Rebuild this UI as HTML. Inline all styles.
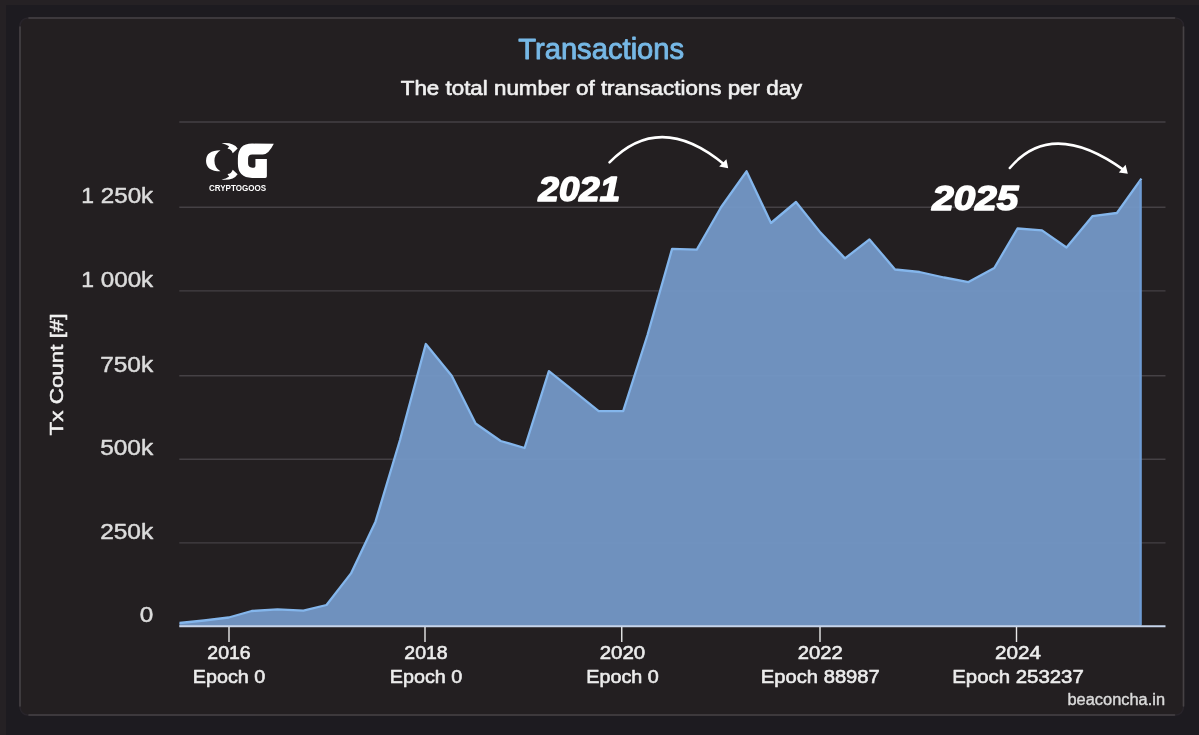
<!DOCTYPE html>
<html>
<head>
<meta charset="utf-8">
<title>Transactions</title>
<style>
html,body{margin:0;padding:0;background:#1d1b20;width:1199px;height:735px;overflow:hidden}
svg{display:block;position:absolute;left:0;top:0;filter:blur(0.35px)}
text{font-family:"Liberation Sans",sans-serif;stroke-linejoin:round}
</style>
</head>
<body>
<svg width="1199" height="735" viewBox="0 0 1199 735">
  <rect x="0" y="0" width="1199" height="735" fill="#1d1b20"/>
  <rect x="0" y="0" width="1199" height="5" fill="#252124"/>
  <rect x="0" y="0" width="6" height="735" fill="#252124"/>
  <rect x="20" y="18" width="1163.5" height="697" rx="8" ry="8" fill="#231f21" stroke="#28242a" stroke-width="1.5"/>
  <g stroke="#464245" stroke-width="1.6" stroke-linecap="round">
    <line x1="29" x2="1174.5" y1="18" y2="18"/><line x1="29" x2="1174.5" y1="715" y2="715"/>
    <line x1="20" x2="20" y1="27" y2="706"/><line x1="1183.5" x2="1183.5" y1="27" y2="706"/>
  </g>

  <g stroke="#454145" stroke-width="1.4">
    <line x1="179.3" x2="1165.5" y1="122.0" y2="122.0"/>
    <line x1="179.3" x2="1165.5" y1="207.3" y2="207.3"/>
    <line x1="179.3" x2="1165.5" y1="290.9" y2="290.9"/>
    <line x1="179.3" x2="1165.5" y1="375.8" y2="375.8"/>
    <line x1="179.3" x2="1165.5" y1="459.3" y2="459.3"/>
    <line x1="179.3" x2="1165.5" y1="542.9" y2="542.9"/>
  </g>
  <path fill="#7397c6" fill-opacity="0.955" d="M179.5,623 L204.1,620.5 L228.7,617.5 L251.7,611 L277.5,609.3 L303.4,610.7 L326.5,605 L351,573.4 L375.5,521.7 L400,440 L425.8,344 L451.7,375.8 L475.6,423.5 L500.7,441 L524.6,448 L548.9,371.2 L574.2,391.3 L598.7,411.2 L623.2,411.2 L647.5,335 L672.1,248.9 L696.7,249.7 L721.2,207 L746.5,171.3 L771,223 L796,202 L820.5,232.6 L845,258.4 L869.5,239.4 L895,269.5 L919.5,272 L944,277.5 L968.5,282.1 L994.3,268 L1017.5,228.5 L1042,230.4 L1066.5,247.5 L1092.4,216.2 L1116.9,213 L1141.4,178.6 L1141.4,626.2 L179.5,626.2 Z"/>
  <path fill="none" stroke="#84b6ec" stroke-width="2.3" stroke-linejoin="round" d="M179.5,623 L204.1,620.5 L228.7,617.5 L251.7,611 L277.5,609.3 L303.4,610.7 L326.5,605 L351,573.4 L375.5,521.7 L400,440 L425.8,344 L451.7,375.8 L475.6,423.5 L500.7,441 L524.6,448 L548.9,371.2 L574.2,391.3 L598.7,411.2 L623.2,411.2 L647.5,335 L672.1,248.9 L696.7,249.7 L721.2,207 L746.5,171.3 L771,223 L796,202 L820.5,232.6 L845,258.4 L869.5,239.4 L895,269.5 L919.5,272 L944,277.5 L968.5,282.1 L994.3,268 L1017.5,228.5 L1042,230.4 L1066.5,247.5 L1092.4,216.2 L1116.9,213 L1141.4,178.6"/>
  <line x1="1140.6" x2="1140.6" y1="181" y2="625" stroke="#6e9bd3" stroke-width="2.2"/>
  <line x1="179.3" x2="1165.5" y1="626.2" y2="626.2" stroke="#c6d4ea" stroke-width="2"/>
  <g stroke="#e8e8e8" stroke-width="1.4">
    <line x1="229" x2="229" y1="627" y2="642"/>
    <line x1="425" x2="425" y1="627" y2="642"/>
    <line x1="621.75" x2="621.75" y1="627" y2="642"/>
    <line x1="820" x2="820" y1="627" y2="642"/>
    <line x1="1016.5" x2="1016.5" y1="627" y2="642"/>
  </g>
  <text x="601.2" y="58.5" font-size="29.3" fill="#76b8e6" text-anchor="middle" textLength="166" lengthAdjust="spacingAndGlyphs" stroke="#76b8e6" stroke-width="0.9" >Transactions</text>
  <text x="601.5" y="94.8" font-size="20.5" fill="#f0f0f0" text-anchor="middle" textLength="401.5" lengthAdjust="spacingAndGlyphs" stroke="#f0f0f0" stroke-width="0.65" >The total number of transactions per day</text>
  <text x="94.0" y="203.2" font-size="22.9" fill="#dcdcdc" text-anchor="end" stroke="#dcdcdc" stroke-width="0.5" >1</text>
  <text x="153.2" y="203.2" font-size="22.9" fill="#dcdcdc" text-anchor="end" textLength="52.4" lengthAdjust="spacingAndGlyphs" stroke="#dcdcdc" stroke-width="0.5" >250k</text>
  <text x="94.0" y="286.8" font-size="22.9" fill="#dcdcdc" text-anchor="end" stroke="#dcdcdc" stroke-width="0.5" >1</text>
  <text x="153.2" y="286.8" font-size="22.9" fill="#dcdcdc" text-anchor="end" textLength="52.4" lengthAdjust="spacingAndGlyphs" stroke="#dcdcdc" stroke-width="0.5" >000k</text>
  <text x="153.2" y="371.7" font-size="22.9" fill="#dcdcdc" text-anchor="end" textLength="53" lengthAdjust="spacingAndGlyphs" stroke="#dcdcdc" stroke-width="0.5" >750k</text>
  <text x="153.2" y="455.2" font-size="22.9" fill="#dcdcdc" text-anchor="end" textLength="53" lengthAdjust="spacingAndGlyphs" stroke="#dcdcdc" stroke-width="0.5" >500k</text>
  <text x="153.2" y="538.8" font-size="22.9" fill="#dcdcdc" text-anchor="end" textLength="53" lengthAdjust="spacingAndGlyphs" stroke="#dcdcdc" stroke-width="0.5" >250k</text>
  <text x="153.2" y="622.1" font-size="22.9" fill="#dcdcdc" text-anchor="end" textLength="13.5" lengthAdjust="spacingAndGlyphs" stroke="#dcdcdc" stroke-width="0.5" >0</text>
  <g transform="translate(63.2,374.4) rotate(-90)"><text x="0" y="0" font-size="18.6" fill="#f0f0f0" text-anchor="middle" textLength="122" lengthAdjust="spacingAndGlyphs" stroke="#f0f0f0" stroke-width="0.5" >Tx Count [#]</text></g>
  <text x="229" y="658.7" font-size="19.2" fill="#ececec" text-anchor="middle" textLength="43.3" lengthAdjust="spacingAndGlyphs" stroke="#ececec" stroke-width="0.6" >2016</text>
  <text x="229" y="683" font-size="19.2" fill="#ececec" text-anchor="middle" textLength="72.5" lengthAdjust="spacingAndGlyphs" stroke="#ececec" stroke-width="0.6" >Epoch 0</text>
  <text x="426" y="658.7" font-size="19.2" fill="#ececec" text-anchor="middle" textLength="43.3" lengthAdjust="spacingAndGlyphs" stroke="#ececec" stroke-width="0.6" >2018</text>
  <text x="426" y="683" font-size="19.2" fill="#ececec" text-anchor="middle" textLength="72.5" lengthAdjust="spacingAndGlyphs" stroke="#ececec" stroke-width="0.6" >Epoch 0</text>
  <text x="622.5" y="658.7" font-size="19.2" fill="#ececec" text-anchor="middle" textLength="45.5" lengthAdjust="spacingAndGlyphs" stroke="#ececec" stroke-width="0.6" >2020</text>
  <text x="622.5" y="683" font-size="19.2" fill="#ececec" text-anchor="middle" textLength="72.5" lengthAdjust="spacingAndGlyphs" stroke="#ececec" stroke-width="0.6" >Epoch 0</text>
  <text x="820.3" y="658.7" font-size="19.2" fill="#ececec" text-anchor="middle" textLength="45" lengthAdjust="spacingAndGlyphs" stroke="#ececec" stroke-width="0.6" >2022</text>
  <text x="820.3" y="683" font-size="19.2" fill="#ececec" text-anchor="middle" textLength="119" lengthAdjust="spacingAndGlyphs" stroke="#ececec" stroke-width="0.6" >Epoch 88987</text>
  <text x="1018" y="658.7" font-size="19.2" fill="#ececec" text-anchor="middle" textLength="46" lengthAdjust="spacingAndGlyphs" stroke="#ececec" stroke-width="0.6" >2024</text>
  <text x="1018" y="683" font-size="19.2" fill="#ececec" text-anchor="middle" textLength="131.5" lengthAdjust="spacingAndGlyphs" stroke="#ececec" stroke-width="0.6" >Epoch 253237</text>
  <text x="1165" y="705" font-size="15.6" fill="#dadada" text-anchor="end" textLength="97.5" lengthAdjust="spacingAndGlyphs" stroke="#dadada" stroke-width="0.4" >beaconcha.in</text>
  <g font-style="italic" font-weight="bold" fill="#ffffff" stroke="#ffffff" stroke-width="1.6">
    <text x="538.6" y="200.9" font-size="35.5" textLength="81.5" lengthAdjust="spacingAndGlyphs">2021</text>
    <text x="932.2" y="210.1" font-size="35.5" textLength="86" lengthAdjust="spacingAndGlyphs">2025</text>
  </g>
  <g fill="none" stroke="#ffffff" stroke-width="2.5" stroke-linecap="round">
    <path d="M609.5,162.4 Q660,110.5 725,165"/>
    <path d="M1009.8,168 Q1052,118 1124.5,170.5"/>
  </g>
  <path fill="#ffffff" d="M728.2,168.2 L719.2,166.4 L726.4,159.2 Z"/>
  <path fill="#ffffff" d="M1127.8,173.8 L1118.8,172.6 L1125.6,164.8 Z"/>
  <g transform="translate(195,135) scale(0.08167)" fill="#ffffff">
    <path d="M312,186 Q135,186 135,315 Q135,445 312,445 Q238,400 238,315 Q238,232 312,186 Z"/>
    <path d="M325,100 Q470,85 522,165 L462,222 Q445,170 398,168 L418,138 Q380,110 325,100 Z"/>
    <path d="M325,546 Q470,560 522,480 L462,424 Q445,476 398,478 L418,508 Q380,536 325,546 Z"/>
    <path d="M965,108 L700,105 Q525,105 525,290 L525,350 Q525,525 700,525 L860,525 Q880,525 880,505 L880,295 L740,295 L740,380 Q740,400 720,400 L700,400 Q650,400 650,350 L650,290 Q650,240 700,240 L830,240 Q900,240 965,108 Z"/>
  </g>
  <text x="237.5" y="191.4" font-size="8.6" font-weight="bold" fill="#ffffff" text-anchor="middle" textLength="57.2" lengthAdjust="spacingAndGlyphs">CRYPTOGOOS</text>
</svg>
</body>
</html>
